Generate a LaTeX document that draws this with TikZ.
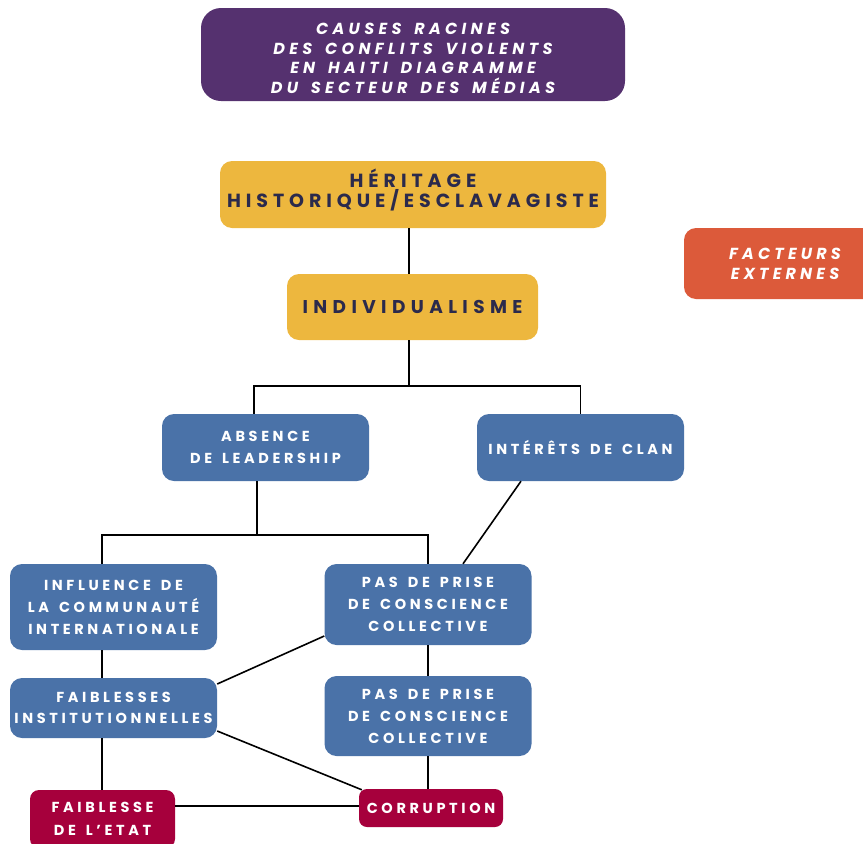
\documentclass[tikz,border=0pt]{standalone}
\usepackage{fontspec}
\setmainfont{Poppins}
% letter-spaced faces for the boxes
\newfontfamily\bodyfont{Poppins}[LetterSpace=25,WordSpace=1.5]
\newfontfamily\titlefont{Poppins}[LetterSpace=27,WordSpace=1.6]
\newfontfamily\herfont{Poppins}[LetterSpace=26]
\newfontfamily\indfont{Poppins}[LetterSpace=29]
\newfontfamily\facfont{Poppins}[LetterSpace=26]
\definecolor{titlepurple}{HTML}{55316F}
\definecolor{heryellow}{HTML}{EDB73E}
\definecolor{navytext}{HTML}{2B2A4C}
\definecolor{extorange}{HTML}{DC5A3A}
\definecolor{causeblue}{HTML}{4A72A8}
\definecolor{effectred}{HTML}{A6003C}
\begin{document}
\begin{tikzpicture}[x=1pt,y=-1pt,
  box/.style={rounded corners=12pt, inner sep=0pt, align=center, text=white},
  bluebox/.style={box, fill=causeblue, minimum width=207pt,
    font=\bodyfont\fontsize{14.5}{22}\selectfont\bfseries},
  redbox/.style={box, fill=effectred,
    font=\bodyfont\fontsize{14.5}{23}\selectfont\bfseries},
  yellowbox/.style={box, fill=heryellow, text=navytext},
  link/.style={draw=black, line width=1.6pt}]
\useasboundingbox (0,0) rectangle (863,844);

% title banner
\node[box, fill=titlepurple, rounded corners=20pt, minimum width=424pt, minimum height=93pt,
  text height=77.5pt,
  font=\titlefont\fontsize{16}{19.4}\selectfont\bfseries\itshape]
  (title) at (413,54.5) {CAUSES RACINES\\DES CONFLITS VIOLENTS\\EN HAITI DIAGRAMME\\DU SECTEUR DES MÉDIAS};

% root causes
\node[yellowbox, minimum width=386pt, minimum height=67pt, text depth=12pt,
  font=\herfont\fontsize{19}{20}\selectfont\bfseries]
  (her) at (413,194.5) {HÉRITAGE\\HISTORIQUE/ESCLAVAGISTE};
\node[yellowbox, minimum width=251pt, minimum height=66pt,
  font=\indfont\fontsize{18.5}{20}\selectfont\bfseries]
  (ind) at (412.5,307) {INDIVIDUALISME};

% external factors
\node[box, fill=extorange, minimum width=202pt, minimum height=71pt,
  font=\facfont\fontsize{16}{20}\selectfont\bfseries\itshape]
  (fac) at (785,263.5) {FACTEURS\\EXTERNES};

% second level
\node[bluebox, minimum height=67pt] (abs) at (265.5,447.5) {ABSENCE\\DE LEADERSHIP};
\node[bluebox, minimum height=67pt] (cla) at (580.5,447.5) {INTÉRÊTS DE CLAN};

% third level
\node[bluebox, minimum height=86pt] (inf) at (113.5,607) {INFLUENCE DE\\LA COMMUNAUTÉ\\INTERNATIONALE};
\node[bluebox, minimum height=81pt] (pas1) at (428,604.5) {PAS DE PRISE\\DE CONSCIENCE\\COLLECTIVE};
\node[bluebox, minimum height=60pt, font=\bodyfont\fontsize{14.5}{21}\selectfont\bfseries]
  (fai) at (113.5,708) {FAIBLESSES\\INSTITUTIONNELLES};
\node[bluebox, minimum height=80pt] (pas2) at (428,716) {PAS DE PRISE\\DE CONSCIENCE\\COLLECTIVE};

% consequences
\node[redbox, rounded corners=9pt, minimum width=145pt, minimum height=58pt] (eta) at (102.5,819) {FAIBLESSE\\DE L’ETAT};
\node[redbox, rounded corners=8pt, minimum width=144pt, minimum height=38pt] (cor) at (431,808) {CORRUPTION};

% connectors
\draw[link] ([xshift=-4pt]her.south) -- ([xshift=-3.5pt]ind.south |- ind.north);
\coordinate (j1) at (409,386);
\draw[link] ([xshift=-3.5pt]ind.south) -- (j1);
\draw[link] (j1) -| ([xshift=-11.5pt]abs.north);
\draw[link] (j1) -| (cla.north);
\coordinate (j2) at (257,535);
\draw[link] ([xshift=-8.5pt]abs.south) -- (j2);
\draw[link] (j2) -| ([xshift=-11.5pt]inf.north);
\draw[link] (j2) -| (pas1.north);
\draw[link] ([xshift=-59.5pt]cla.south) -- ([xshift=35pt]pas1.north);
\draw[link] ([xshift=-11.5pt]inf.south) -- ([xshift=-11.5pt]fai.north);
\draw[link] (pas1.south) -- (pas2.north);
\draw[link] ([yshift=-31.5pt]pas1.west) -- ([yshift=24pt]fai.east);
\draw[link] ([yshift=-23pt]fai.east) -- ([xshift=3pt,yshift=-1pt]cor.north west);
\draw[link] ([xshift=-11.5pt]fai.south) -- ([xshift=-0.5pt]eta.north);
\draw[link] (pas2.south) -- ([xshift=-3pt]cor.north);
\draw[link] ([yshift=13pt]eta.east) -- ([yshift=2pt]cor.west);
\end{tikzpicture}
\end{document}
